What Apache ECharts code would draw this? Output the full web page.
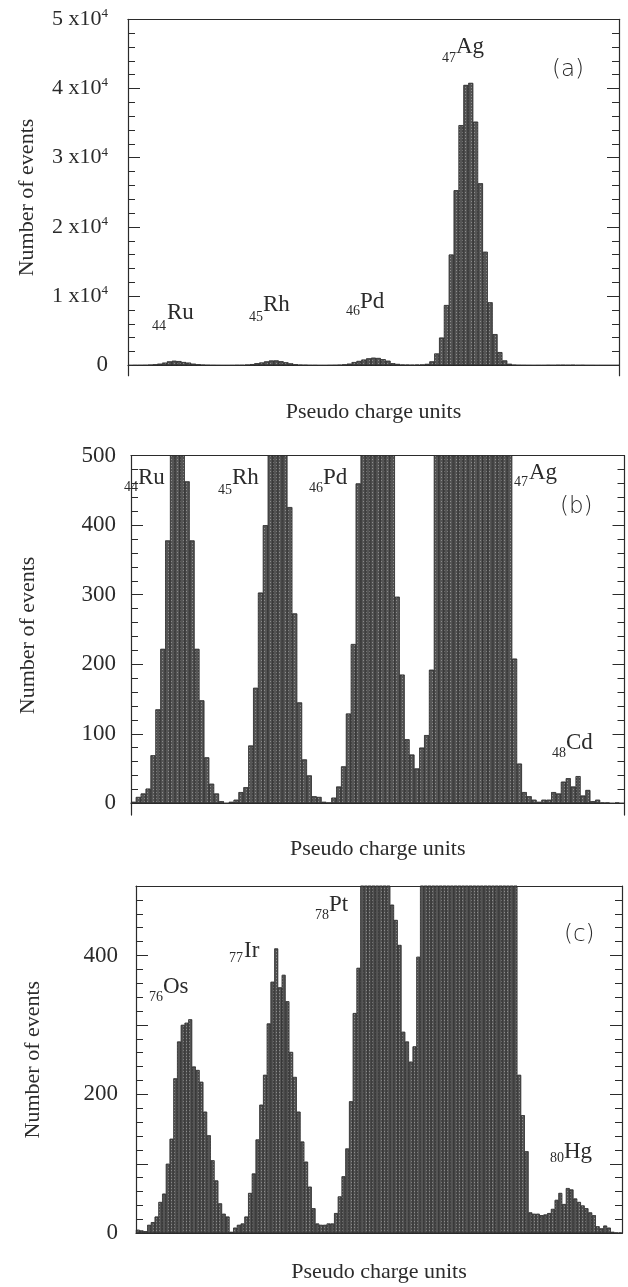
<!DOCTYPE html>
<html><head><meta charset="utf-8">
<script src="https://cdn.jsdelivr.net/npm/echarts@6/dist/echarts.min.js"></script>
<style>html,body{margin:0;padding:0;background:#fff}#c{width:628px;height:1287px}</style>
</head><body><div id="c"></div>
<script>
// ---- DATA ----
// Histogram of the Ag-target spectrum (panels a and b show the same bins, b is zoomed in y)
const agBins = [
  2, 9, 14, 21, 69, 135, 222, 378, 560, 650,
  600, 463, 378, 222, 148, 66, 28, 14, 3, 0,
  2, 5, 16, 23, 83, 166, 303, 400, 560, 690,
  700, 580, 426, 273, 145, 63, 40, 10, 9, 2,
  1, 8, 24, 53, 129, 229, 460, 620, 820, 1000,
  1090, 1050, 880, 650, 297, 185, 92, 70, 50, 80,
  98, 192, 560, 1700, 4000, 8700, 16000, 25300, 34700, 40500,
  40800, 35200, 26300, 16400, 9100, 4500, 1900, 700, 208, 57,
  16, 10, 5, 2, 5, 5, 16, 14, 31, 36,
  24, 39, 11, 19, 3, 5, 1, 1, 0, 1,
  0
];
// Histogram of the Au-target spectrum (panel c)
const auBins = [
  5, 4, 3, 12, 16, 24, 45, 57, 100, 136,
  223, 276, 300, 303, 308, 240, 235, 218, 175, 141,
  105, 76, 43, 28, 24, 2, 8, 12, 14, 24,
  58, 86, 135, 185, 228, 302, 362, 410, 354, 372,
  334, 261, 225, 175, 132, 103, 67, 36, 14, 12,
  12, 14, 14, 29, 53, 82, 122, 190, 317, 382,
  560, 640, 720, 760, 750, 700, 630, 540, 473, 451,
  415, 290, 276, 247, 269, 398, 560, 700, 900, 1300,
  2000, 3100, 4800, 7000, 9800, 12800, 15600, 17600, 18600, 18400,
  17200, 15100, 12300, 9400, 6700, 4500, 2900, 1800, 1200, 850,
  650, 540, 228, 170, 118, 30, 28, 28, 26, 27,
  29, 35, 48, 58, 42, 65, 63, 50, 45, 40,
  36, 30, 26, 10, 7, 11, 8, 2, 1, 1
];
const tickLabelsA = [0, 10000, 20000, 30000, 40000, 50000];
const tickLabelsB = [0, 100, 200, 300, 400, 500];
const tickLabelsC = [0, 200, 400];
const majorTicksC = [0, 100, 200, 300, 400, 500];
const peakLabelsA = [['44','Ru'],['45','Rh'],['46','Pd'],['47','Ag']];
const peakLabelsB = [['44','Ru'],['45','Rh'],['46','Pd'],['47','Ag'],['48','Cd']];
const peakLabelsC = [['76','Os'],['77','Ir'],['78','Pt'],['80','Hg']];
const panelTags = ['(a)','(b)','(c)'];
const xTitle = 'Pseudo charge units';
const yTitle = 'Number of events';

// ---- LAYOUT / STYLE ----
function steps(from, to, step){ const r=[]; for(let v=from; v<=to+1e-9; v+=step) r.push(v); return r; }
const serif = 'Liberation Serif';
const ink = '#2b2b2b';
const grids = [
  {left:128, top:19.3, width:491, height:356.4},
  {left:131, top:455.7, width:493.5, height:359.4},
  {left:136, top:886, width:486, height:347.3}
];
const panels = [
  {data: agBins, min:-1500, max:50000, labels: tickLabelsA, major: tickLabelsA, minor: steps(0,50000,2000),
   fmt: v => v === 0 ? '0' : '{m|' + (v/10000) + ' x10}{s|4}', margin: 20, nameGap: 90, xGap: 26},
  {data: agBins, min:-17, max:500, labels: tickLabelsB, major: tickLabelsB, minor: steps(0,500,20),
   fmt: v => String(v), margin: 15, nameGap: 92, xGap: 23},
  {data: auBins, min:0, max:500, labels: tickLabelsC, major: majorTicksC, minor: steps(0,500,20),
   fmt: v => String(v), margin: 18, nameGap: 92, xGap: 28}
];
// annotation placements (pixel positions of the element tags)
const tagPos = [
  [[166,326,167,313],[263,317,263,305],[360,311,360,302],[456,58,456,47]],
  [[138,487,138,478],[232,490,232,478],[323,488,323,478],[528,482,529,473],[566,753,566,743]],
  [[163,997,163,987],[243,958,244,951],[329,915,329,905],[564,1158,564,1152]]
];
const panelTagPos = [[552,70],[560,507],[564,935]];

const xAxis = [], yAxis = [], series = [];
panels.forEach((p, i) => {
  const cats = p.data.map((_, k) => k);
  xAxis.push({
    type:'category', gridIndex:i, position:'bottom', data:cats, boundaryGap:true,
    axisLine:{show:true, onZero:true, lineStyle:{color:ink, width:1.2}},
    axisTick:{show:false}, axisLabel:{show:false}, splitLine:{show:false},
    name:xTitle, nameLocation:'middle', nameGap:p.xGap,
    nameTextStyle:{fontFamily:serif, fontSize:22, color:ink}
  });
  xAxis.push({
    type:'category', gridIndex:i, position:'top', data:cats,
    axisLine:{show:true, onZero:false, lineStyle:{color:ink, width:1.2}},
    axisTick:{show:false}, axisLabel:{show:false}, splitLine:{show:false}
  });
  const base = {type:'value', gridIndex:i, min:p.min, max:p.max, splitLine:{show:false}};
  yAxis.push(Object.assign({}, base, {
    position:'left',
    axisLine:{show:true, lineStyle:{color:ink, width:1.2}},
    axisTick:{show:true, inside:true, length:12, customValues:p.major, lineStyle:{color:ink, width:1}},
    axisLabel:{show:true, customValues:p.labels, formatter:p.fmt, margin:p.margin, color:ink,
      fontFamily:serif, fontSize:23,
      rich:{m:{fontFamily:serif, fontSize:22, color:ink, lineHeight:24},
            s:{fontFamily:serif, fontSize:13, color:ink, verticalAlign:'top', lineHeight:13}}},
    name:yTitle, nameLocation:'middle', nameRotate:90, nameGap:p.nameGap,
    nameTextStyle:{fontFamily:serif, fontSize:22, color:ink}
  }));
  yAxis.push(Object.assign({}, base, {
    position:'left', axisLine:{show:false},
    axisTick:{show:true, inside:true, length:7, customValues:p.minor, lineStyle:{color:ink, width:1}},
    axisLabel:{show:false}
  }));
  yAxis.push(Object.assign({}, base, {
    position:'right', axisLine:{show:true, lineStyle:{color:ink, width:1.2}},
    axisTick:{show:true, inside:true, length:12, customValues:p.major, lineStyle:{color:ink, width:1}},
    axisLabel:{show:false}
  }));
  yAxis.push(Object.assign({}, base, {
    position:'right', axisLine:{show:false},
    axisTick:{show:true, inside:true, length:7, customValues:p.minor, lineStyle:{color:ink, width:1}},
    axisLabel:{show:false}
  }));
  series.push({
    type:'bar', xAxisIndex:2*i, yAxisIndex:4*i, data:p.data, barCategoryGap:'0%', clip:true,
    silent:true, animation:false,
    itemStyle:{color:'#555555', borderColor:'#2e2e2e', borderWidth:0.6,
      decal:{symbol:'rect', symbolSize:1, dashArrayX:[1,2], dashArrayY:[1,2], color:'rgba(255,255,255,0.33)'}}
  });
});

const graphic = [];
[peakLabelsA, peakLabelsB, peakLabelsC].forEach((list, i) => {
  list.forEach((lab, j) => {
    const pos = tagPos[i][j];
    graphic.push({type:'text', silent:true, style:{text:lab[0], x:pos[0], y:pos[1], fill:ink,
      font:'14px "Liberation Serif"', align:'right', textAlign:'right', verticalAlign:'middle', textVerticalAlign:'middle'}});
    graphic.push({type:'text', silent:true, style:{text:lab[1], x:pos[2], y:pos[3], fill:ink,
      font:'23px "Liberation Serif"', align:'left', textAlign:'left', verticalAlign:'middle', textVerticalAlign:'middle'}});
  });
});
panelTags.forEach((t, i) => {
  graphic.push({type:'text', silent:true, style:{text:t, x:panelTagPos[i][0], y:panelTagPos[i][1], fill:ink,
    font:'300 23px "DejaVu Sans"', align:'left', textAlign:'left', verticalAlign:'middle', textVerticalAlign:'middle'}});
});

const chart = echarts.init(document.getElementById('c'), null, {renderer:'canvas'});
chart.setOption({
  backgroundColor:'#ffffff', animation:false,
  grid: grids, xAxis, yAxis, series, graphic
});
</script></body></html>
